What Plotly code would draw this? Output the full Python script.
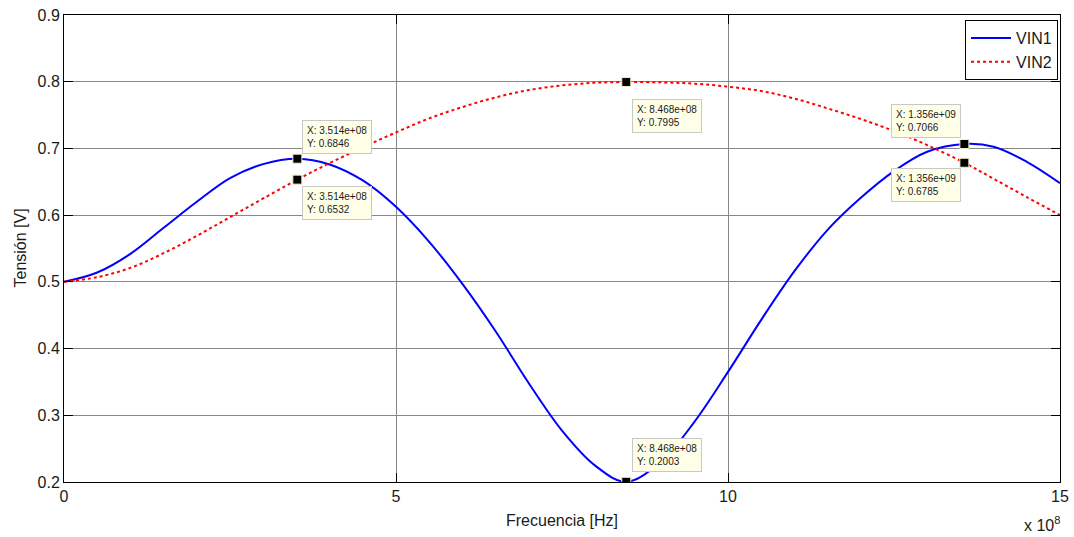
import plotly.graph_objects as go

# Frequency sweep (Hz) and measured voltage magnitude (V) at each input
freq_vin1 = [0.0, 0.5e8, 1.0e8, 1.5e8, 2.0e8, 2.5e8, 3.0e8, 3.514e8, 4.0e8,
             4.5e8, 5.0e8, 5.5e8, 6.0e8, 6.5e8, 7.0e8, 7.5e8, 8.0e8, 8.468e8,
             9.0e8, 9.5e8, 10.0e8, 10.5e8, 11.0e8, 11.5e8, 12.0e8, 12.5e8,
             13.0e8, 13.56e8, 14.0e8, 14.5e8, 15.0e8]
vin1 = [0.500, 0.514, 0.542, 0.581, 0.620, 0.6555, 0.6765, 0.6846, 0.676,
        0.652, 0.6125, 0.560, 0.497, 0.426, 0.348, 0.277, 0.2245, 0.2003,
        0.2315, 0.291, 0.365, 0.443, 0.516, 0.578, 0.626, 0.666,
        0.695, 0.7066, 0.7025, 0.680, 0.648]

freq_vin2 = [0.0, 0.5e8, 1.0e8, 1.5e8, 2.0e8, 2.5e8, 3.0e8, 3.514e8, 4.0e8,
             4.5e8, 5.0e8, 5.5e8, 6.0e8, 6.5e8, 7.0e8, 7.5e8, 8.0e8, 8.468e8,
             9.0e8, 9.5e8, 10.0e8, 10.5e8, 11.0e8, 11.5e8, 12.0e8, 12.5e8,
             13.0e8, 13.56e8, 14.0e8, 14.5e8, 15.0e8]
vin2 = [0.500, 0.507, 0.521, 0.543, 0.569, 0.597, 0.625, 0.6532, 0.678,
        0.7015, 0.724, 0.745, 0.762, 0.7765, 0.7875, 0.7945, 0.7985, 0.7995,
        0.799, 0.797, 0.7925, 0.786, 0.7748, 0.760, 0.744, 0.726,
        0.705, 0.6785, 0.6545, 0.627, 0.600]

# Data tips: frequency, value and the X label shown in each tip box
tip_freq = [3.514e8, 3.514e8, 8.468e8, 8.468e8, 1.356e9, 1.356e9]
tip_val = [0.6846, 0.6532, 0.7995, 0.2003, 0.7066, 0.6785]
tip_xlabel = ["3.514e+08", "3.514e+08", "8.468e+08", "8.468e+08", "1.356e+09", "1.356e+09"]

x_tickvals = [0, 5e8, 10e8, 15e8]
x_ticktext = ["0", "5", "10", "15"]
y_tickvals = [0.2, 0.3, 0.4, 0.5, 0.6, 0.7, 0.8, 0.9]
y_ticktext = ["0.2", "0.3", "0.4", "0.5", "0.6", "0.7", "0.8", "0.9"]

FONT = "Liberation Sans, Arial, sans-serif"
TXT = "#1a1a1a"

fig = go.Figure()
fig.add_trace(go.Scatter(x=freq_vin1, y=vin1, mode="lines", name="VIN1",
                         line=dict(color="#0000ff", width=2, shape="spline", smoothing=1.0)))
fig.add_trace(go.Scatter(x=freq_vin2, y=vin2, mode="lines", name="VIN2",
                         line=dict(color="#ff0000", width=2, dash="dot", shape="spline", smoothing=1.0)))
fig.add_trace(go.Scatter(x=tip_freq, y=tip_val, mode="markers", showlegend=False,
                         marker=dict(symbol="square", size=9, color="black",
                                     line=dict(color="#f5f0c0", width=1))))

# label box placement per tip: (xanchor, yanchor, xshift, yshift)
placements = [("left", "bottom", 5, 5), ("left", "top", 5, -6),
              ("left", "top", 6, -17), ("left", "bottom", 6, 10),
              ("right", "bottom", -3, 6), ("right", "top", -3, -5)]
for f, v, lab, (xa, ya, xs, ys) in zip(tip_freq, tip_val, tip_xlabel, placements):
    fig.add_annotation(x=f, y=v, xref="x", yref="y", showarrow=False,
                       text=f"X: {lab}<br>Y: {v:.4f}", align="left",
                       xanchor=xa, yanchor=ya, xshift=xs, yshift=ys,
                       font=dict(family=FONT, size=10, color=TXT),
                       bgcolor="#ffffe8", bordercolor="#c8c8c8", borderwidth=1, borderpad=4)

# axis titles and exponent label
fig.add_annotation(x=0.5, y=0, xref="paper", yref="paper", showarrow=False,
                   text="Frecuencia [Hz]", yanchor="middle", yshift=-38,
                   font=dict(family=FONT, size=16, color=TXT))
fig.add_annotation(x=0, y=0.5, xref="paper", yref="paper", showarrow=False,
                   text="Tensión [V]", textangle=-90, xanchor="center", xshift=-44,
                   font=dict(family=FONT, size=16, color=TXT))
fig.add_annotation(x=1, y=0, xref="paper", yref="paper", showarrow=False,
                   text="x 10<sup>8</sup>", xanchor="right", yanchor="middle",
                   xshift=2, yshift=-42,
                   font=dict(family=FONT, size=16, color=TXT))

axis_common = dict(showline=True, linecolor="black", linewidth=1, mirror="ticks",
                   ticks="inside", ticklen=9, tickcolor="black", automargin=False,
                   showgrid=True, gridcolor="#888888", gridwidth=1, zeroline=False,
                   tickfont=dict(family=FONT, size=16, color=TXT))

fig.update_layout(
    width=1074, height=537,
    margin=dict(l=64, r=14, t=15, b=55, pad=0),
    paper_bgcolor="white", plot_bgcolor="white",
    xaxis=dict(range=[0, 1.5e9], tickvals=x_tickvals, ticktext=x_ticktext, **axis_common),
    yaxis=dict(range=[0.2, 0.9], tickvals=y_tickvals, ticktext=y_ticktext, **axis_common),
    legend=dict(x=0.998, y=0.989, xanchor="right", yanchor="top",
                bgcolor="white", bordercolor="black", borderwidth=1,
                font=dict(family=FONT, size=16, color=TXT),
                tracegroupgap=0, itemwidth=40),
    showlegend=True,
)

fig.write_html("out.html")
